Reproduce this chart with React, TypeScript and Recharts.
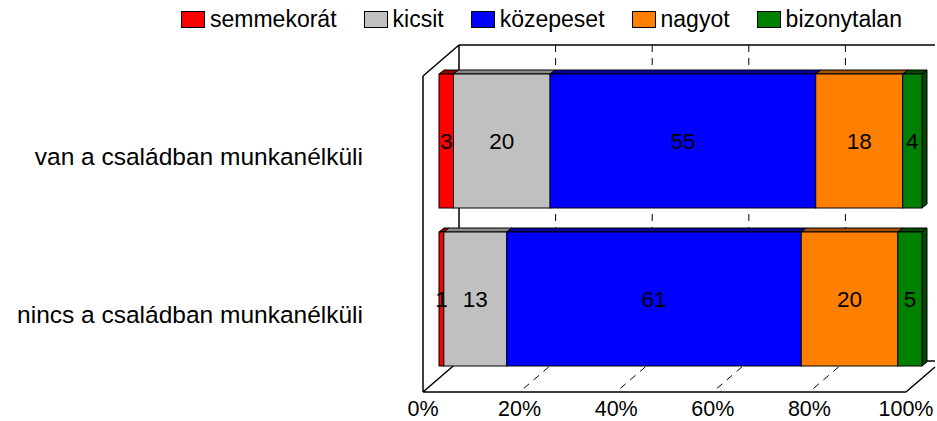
import { BarChart, Bar, XAxis, YAxis, CartesianGrid, Legend, LabelList } from "recharts"

const categories = ["van a családban munkanélküli", "nincs a családban munkanélküli"]
const seriesNames = ["semmekorát", "kicsit", "közepeset", "nagyot", "bizonytalan"]
const semmekorat = [3, 1]
const kicsit = [20, 13]
const kozepeset = [55, 61]
const nagyot = [18, 20]
const bizonytalan = [4, 5]
const xTicks = [0, 20, 40, 60, 80, 100]

const colors = ["#ff0000", "#c0c0c0", "#0000ff", "#ff8000", "#008000"]
const topColors = ["#9a0000", "#8a8a8a", "#00009a", "#a35200", "#004a00"]
const keys = ["s0", "s1", "s2", "s3", "s4"]

const data = categories.map((name, i) => ({
  name,
  s0: semmekorat[i],
  s1: kicsit[i],
  s2: kozepeset[i],
  s3: nagyot[i],
  s4: bizonytalan[i],
}))

const W = 937
const H = 421

// 3d offsets: front plane, back wall, bar depth (relative to the bar plane)
const FX = -16, FY = 14
const BX = 20, BY = -17
const DX = 5, DY = -4

const FONT = "Arial, 'Liberation Sans', sans-serif"
const INK = "#000"

function makeShape(si: number) {
  return (p: any) => {
    const { x, y, width: w, height: h } = p
    if (w == null || h == null) return <g />
    const top = `${x},${y} ${x + DX},${y + DY} ${x + w + DX},${y + DY} ${x + w},${y}`
    const side = `${x + w},${y} ${x + w + DX},${y + DY} ${x + w + DX},${y + h + DY} ${x + w},${y + h}`
    return (
      <g>
        <polygon points={top} fill={topColors[si]} stroke={INK} strokeWidth={1} />
        {si === keys.length - 1 && <polygon points={side} fill={topColors[si]} stroke={INK} strokeWidth={1} />}
        <rect x={x} y={y} width={w} height={h} fill={colors[si]} stroke={INK} strokeWidth={1} />
      </g>
    )
  }
}

// open path pieces for the walls and floor, cut at the right edge of the picture
function cut(xa: number, ya: number, xb: number, yb: number) {
  const maxX = W - 2
  if (xb > maxX && xb !== xa) {
    const t = (maxX - xa) / (xb - xa)
    return `M${xa},${ya} L${maxX},${ya + (yb - ya) * t}`
  }
  return `M${xa},${ya} L${xb},${yb}`
}

const gridLine = (p: any) => {
  const { x1, y1, y2, x, width } = p
  const L = x, R = x + width, T = y1, B = y2
  const isLeft = Math.abs(x1 - L) < 0.5
  const isRight = Math.abs(x1 - R) < 0.5
  if (isLeft) {
    const d = [
      cut(L + FX, T + FY, L + FX, B + FY),
      cut(L + FX, T + FY, L + BX, T + BY),
      cut(L + BX, T + BY, R + BX, T + BY),
      cut(L + BX, T + BY, L + BX, B + BY),
      cut(L + FX, B + FY, L + BX, B + BY),
      cut(L + FX, B + FY, R + FX, B + FY),
      cut(R + FX, B + FY, R + BX, B + BY),
      cut(L + BX, B + BY, R + BX, B + BY),
    ].join(" ")
    return <path key={`f-${x1}`} d={d} fill="none" stroke={INK} strokeWidth={1.5} />
  }
  if (isRight || x1 + BX > W) return <g key={`r-${x1}`} />
  const d = `M${x1 + BX},${T + BY} L${x1 + BX},${B + BY} L${x1 + FX},${B + FY}`
  return <path key={`g-${x1}`} d={d} fill="none" stroke={INK} strokeWidth={1} strokeDasharray="7 6" />
}

const XTick = (p: any) => (
  <text x={p.x + FX} y={p.y + 31} textAnchor="middle" dominantBaseline="central" fontSize={21.5} fontFamily={FONT} fill="#000">
    {`${p.payload.value}%`}
  </text>
)

const YTick = (p: any) => (
  <text x={p.x} y={p.y + FY + 1} textAnchor="end" dominantBaseline="central" fontSize={24.5} fontFamily={FONT} fill="#000">
    {p.payload.value}
  </text>
)

const renderLegend = () => (
  <div style={{ height: 62, display: "flex", alignItems: "flex-start", paddingLeft: 181, paddingTop: 6, boxSizing: "border-box", fontFamily: FONT, fontSize: 23, color: "#000" }}>
    {seriesNames.map((n, i) => (
      <div key={n} style={{ display: "flex", alignItems: "center", marginRight: 27, lineHeight: "26px" }}>
        <span style={{ display: "inline-block", width: 22, height: 15, background: colors[i], border: "1px solid #000", marginRight: 5 }} />
        <span>{n}</span>
      </div>
    ))}
  </div>
)

export default function App() {
  return (
    <div style={{ position: "absolute", left: 0, top: 0, width: W, height: H, background: "#fff", overflow: "hidden" }}>
      <BarChart
        width={W}
        height={H}
        data={data}
        layout="vertical"
        margin={{ top: 0, right: 15, bottom: 0, left: 0 }}
      >
        <Legend verticalAlign="top" align="left" content={renderLegend} wrapperStyle={{ top: 0, left: 0, width: W, height: 62 }} />
        <CartesianGrid vertical={gridLine} horizontal={false} />
        <XAxis type="number" domain={[0, 100]} ticks={xTicks} axisLine={false} tickLine={false} tickSize={0} tickMargin={0} height={43} tick={XTick} interval={0} />
        <YAxis type="category" dataKey="name" width={439} axisLine={false} tickLine={false} tickSize={0} tickMargin={76} tick={YTick} />
        {keys.map((k, i) => (
          <Bar key={k} dataKey={k} name={seriesNames[i]} stackId="a" barSize={134} shape={makeShape(i)} isAnimationActive={false}>
            <LabelList dataKey={k} position="center" fill="#000" fontSize={22.5} fontFamily={FONT} />
          </Bar>
        ))}
      </BarChart>
    </div>
  )
}
